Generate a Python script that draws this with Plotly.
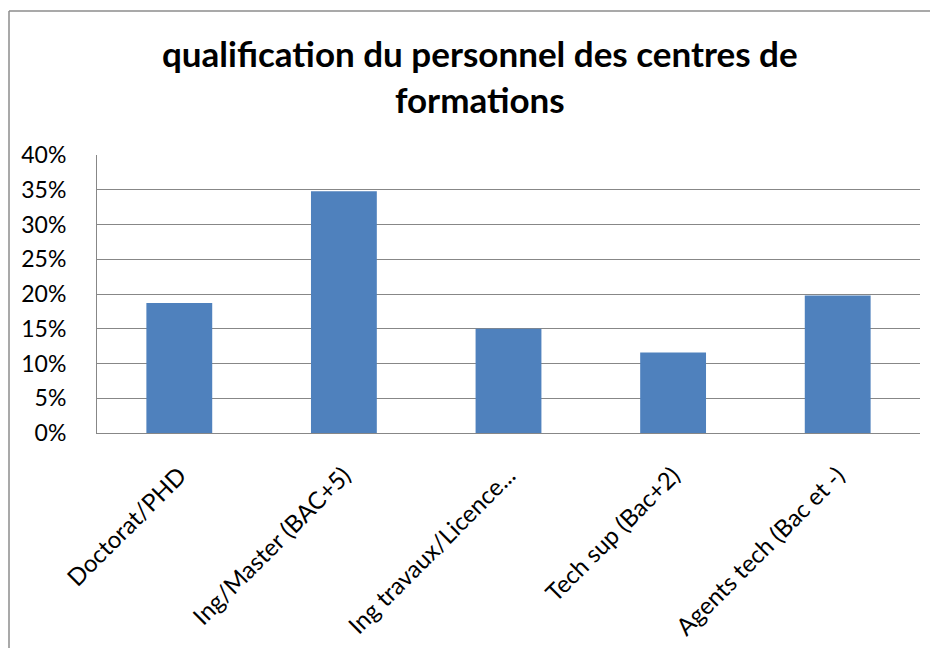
import plotly.graph_objects as go

categories = ["Doctorat/PHD", "Ing/Master (BAC+5)", "Ing travaux/Licence...",
              "Tech sup (Bac+2)", "Agents tech (Bac et -)"]
values = [0.187, 0.348, 0.150, 0.116, 0.198]
y_ticks = [0, 0.05, 0.10, 0.15, 0.20, 0.25, 0.30, 0.35, 0.40]

OFF = 8  # page body margin
W, H = 938, 648
# plot area in screen pixels: x 97..920, y 155..433
L = 97 - OFF
T = 155 - OFF
R = W - (920 - OFF)
B = H - (433 - OFF)
pw, ph = W - L - R, H - T - B

def px_x(p):
    return (p - OFF - L) / pw

def px_y(p):
    return (433 - p) / ph

fig = go.Figure(go.Bar(x=categories, y=values, marker_color="#4f81bd",
                       marker_line_width=0))

fig.update_layout(
    width=W, height=H,
    margin=dict(l=L, r=R, t=T, b=B, autoexpand=False),
    paper_bgcolor="white", plot_bgcolor="white",
    bargap=0.6,
    showlegend=False,
    font=dict(family="Lato, Carlito, sans-serif", color="black"),
)
fig.add_annotation(text="<b>qualification du personnel des centres de<br>formations</b>",
                   xref="paper", yref="paper",
                   x=px_x(480), y=px_y(30), xanchor="center", yanchor="top",
                   showarrow=False, align="center",
                   font=dict(size=35, family="Lato, sans-serif", color="black"))
fig.update_yaxes(range=[0, 0.4], tickvals=y_ticks, tickformat=".0%",
                 showgrid=True, gridcolor="#878787", gridwidth=1,
                 showline=True, linecolor="#878787", linewidth=1,
                 ticks="", ticklabelstandoff=25, zeroline=False,
                 tickfont=dict(size=23, family="Lato, sans-serif", color="black"))
fig.update_xaxes(showline=True, linecolor="#878787", linewidth=1,
                 tickangle=-45, ticks="", ticklabelstandoff=18,
                 tickfont=dict(size=24, family="Lato, sans-serif", color="black"))

fig.add_shape(type="line", xref="paper", yref="paper",
              x0=px_x(9), x1=px_x(9), y0=px_y(11), y1=px_y(H + 20),
              line=dict(color="#8c8c8c", width=1.5))
fig.add_shape(type="line", xref="paper", yref="paper",
              x0=px_x(9), x1=px_x(W + 20), y0=px_y(11), y1=px_y(11),
              line=dict(color="#8c8c8c", width=1.5))

fig.write_html("out.html")
